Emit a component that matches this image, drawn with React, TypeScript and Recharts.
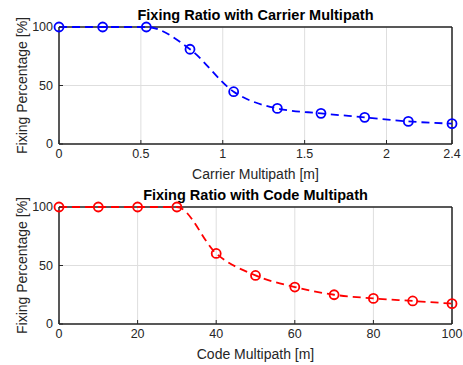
import { LineChart, Line, XAxis, YAxis, CartesianGrid, ReferenceLine } from "recharts"

const carrierMultipath = [0, 0.2667, 0.5333, 0.8, 1.0667, 1.3333, 1.6, 1.8667, 2.1333, 2.4]
const carrierFixing = [100, 100, 100, 81, 44.7, 30.4, 26.2, 22.8, 19.3, 17.4]
const carrierTicks = [0, 0.5, 1, 1.5, 2, 2.4]

const codeMultipath = [0, 10, 20, 30, 40, 50, 60, 70, 80, 90, 100]
const codeFixing = [100, 100, 100, 100, 60.3, 41.5, 31.6, 25, 21.9, 19.7, 17.4]
const codeTicks = [0, 20, 40, 60, 80, 100]

const yTicks = [0, 50, 100]

const font = "'Liberation Sans', Arial, Helvetica, sans-serif"
const ink = "#262626"

function Panel({ xs, ys, ticks, xMax, color, title, xLabel, top, height, labelOffset }) {
	const data = xs.map((x, i) => ({ x, y: ys[i] }))
	return (
		<div style={{ position: "absolute", left: 0, top, width: 463, height }}>
			<div
				style={{
					position: "absolute",
					left: 59,
					width: 393,
					top: 7,
					textAlign: "center",
					fontFamily: font,
					fontWeight: "bold",
					fontSize: 14.5,
					color: "#000",
					lineHeight: "17px",
				}}
			>
				{title}
			</div>
			<LineChart width={463} height={height} data={data} margin={{ top: 27, right: 11, bottom: 0, left: 0 }}>
				<CartesianGrid stroke="#dedede" strokeWidth={1} />
				<XAxis
					dataKey="x"
					type="number"
					domain={[0, xMax]}
					ticks={ticks}
					height={height - 144}
					tickSize={-4}
					tickLine={{ stroke: ink, strokeWidth: 1 }}
					axisLine={{ stroke: ink, strokeWidth: 1.5 }}
					tick={{ fill: ink, fontSize: 12.5, fontFamily: font }}
					tickMargin={9}
					interval={0}
					label={{ value: xLabel, position: "insideBottom", offset: labelOffset, style: { fill: ink, fontSize: 14, fontFamily: font } }}
				/>
				<YAxis
					type="number"
					domain={[0, 100]}
					ticks={yTicks}
					width={59}
					tickSize={-4}
					tickLine={{ stroke: ink, strokeWidth: 1 }}
					axisLine={{ stroke: ink, strokeWidth: 1.5 }}
					tick={{ fill: ink, fontSize: 12.5, fontFamily: font }}
					tickMargin={10}
					label={{
						value: "Fixing Percentage [%]",
						angle: -90,
						position: "insideLeft",
						offset: 22,
						style: { fill: ink, fontSize: 14, fontFamily: font, textAnchor: "middle" },
					}}
				/>
				<ReferenceLine y={100} stroke={ink} strokeWidth={1.5} />
				<ReferenceLine x={xMax} stroke={ink} strokeWidth={1.5} />
				<Line
					type="monotone"
					dataKey="y"
					stroke={color}
					strokeWidth={1.8}
					strokeDasharray="8 5"
					dot={{ r: 4.5, fill: "none", stroke: color, strokeWidth: 1.8, strokeDasharray: "" }}
					isAnimationActive={false}
				/>
			</LineChart>
		</div>
	)
}

function App() {
	return (
		<div style={{ position: "absolute", left: 0, top: 0, width: 463, height: 365, background: "#fff" }}>
			<Panel
				xs={carrierMultipath}
				ys={carrierFixing}
				ticks={carrierTicks}
				xMax={2.4}
				color="#0000ff"
				title="Fixing Ratio with Carrier Multipath"
				xLabel="Carrier Multipath [m]"
				top={0}
				height={184}
				labelOffset={5}
			/>
			<Panel
				xs={codeMultipath}
				ys={codeFixing}
				ticks={codeTicks}
				xMax={100}
				color="#ff0000"
				title="Fixing Ratio with Code Multipath"
				xLabel="Code Multipath [m]"
				top={180}
				height={185}
				labelOffset={6}
			/>
		</div>
	)
}

export default App
